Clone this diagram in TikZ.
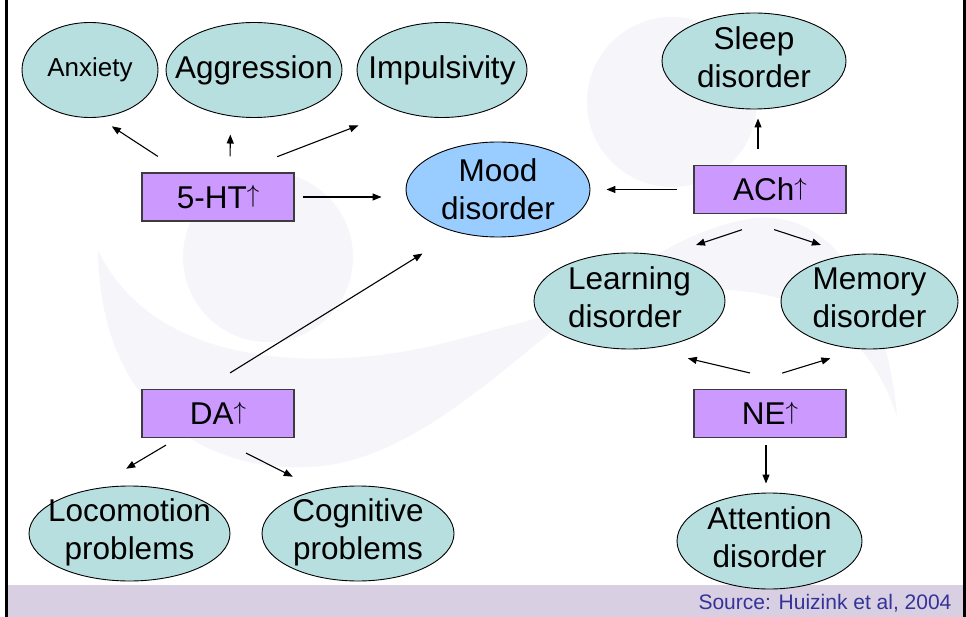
\documentclass[tikz,border=0pt]{standalone}
\usepackage{fontspec}
\setmainfont{Liberation Sans}
\usetikzlibrary{arrows.meta,shapes.geometric,calc}
\definecolor{ovalfill}{RGB}{184,223,224}
\definecolor{moodfill}{RGB}{153,204,255}
\definecolor{boxfill}{RGB}{204,153,255}
\definecolor{boxline}{RGB}{60,60,60}
\definecolor{barfill}{RGB}{217,207,227}
\definecolor{srccol}{RGB}{51,51,153}
\definecolor{wmark}{RGB}{246,245,250}
\newcommand{\lowstrut}{\rule[-8pt]{0pt}{8pt}}
\newcommand{\uparr}{\raisebox{5.4pt}{\fontsize{28}{28}\selectfont$\uparrow$}}
\begin{document}
\begin{tikzpicture}[x=1pt,y=-1pt,
  oval/.style={ellipse, draw=black, line width=0.9pt, fill=ovalfill, inner sep=-150pt,
    align=center, font=\fontsize{31.5}{38}\selectfont},
  box/.style={rectangle, draw=boxline, line width=1.3pt, fill=boxfill,
    minimum width=152pt, minimum height=48pt, inner sep=0pt,
    font=\fontsize{31.5}{38}\selectfont},
  arr/.style={line width=1.1pt, -{Triangle[length=9pt,width=7pt]}}
]
\useasboundingbox (0,0) rectangle (966,617);
\fill[white] (0,0) rectangle (966,617);
% watermark
\fill[wmark] (268,257) circle[radius=85];
\fill[wmark] (672,102) circle[radius=85];
\fill[wmark] (98,250) .. controls (100,420) and (220,480) .. (330,465)
  .. controls (480,440) and (600,240) .. (755,218)
  .. controls (850,210) and (890,330) .. (897,417)
  .. controls (870,330) and (800,285) .. (700,290)
  .. controls (560,300) and (470,345) .. (380,355)
  .. controls (250,370) and (140,340) .. (98,250) -- cycle;
% frame and footer
\fill[barfill] (8,585) rectangle (963,617);
\fill[black] (5,0) rectangle (8,617);
\fill[black] (963,0) rectangle (966,617);
\node[anchor=base east, text=srccol, font=\fontsize{21}{25}\selectfont] (src) at (955,609) {Source: Huizink et al, 2004};
% ovals
\node[oval, minimum width=136pt, minimum height=95pt, font=\fontsize{26}{31}\selectfont] (anx) at (90,70) {Anxiety};
\node[oval, minimum width=176pt, minimum height=95pt] (agg) at (254,70) {Aggression};
\node[oval, minimum width=170pt, minimum height=95pt] (imp) at (442,70) {Impulsivity};
\node[oval, minimum width=184pt, minimum height=96pt] (sleep) at (754,61) {Sleep\\disorder\lowstrut};
\node[oval, fill=moodfill, minimum width=184pt, minimum height=95pt] (mood) at (498,189.5) {Mood\\disorder};
\node[oval, align=left, minimum width=191pt, minimum height=96pt] (learn) at (629.5,301) {Learning\\disorder\lowstrut};
\node[oval, minimum width=177pt, minimum height=95pt] (mem) at (869.5,301.5) {Memory\\disorder\lowstrut};
\node[oval, minimum width=185pt, minimum height=96pt] (att) at (769.5,541) {Attention\\disorder\lowstrut};
\node[oval, minimum width=201pt, minimum height=95pt] (loco) at (129.5,533.5) {Locomotion\\problems\lowstrut};
\node[oval, minimum width=192pt, minimum height=95pt] (cog) at (358,533.5) {Cognitive\\problems\lowstrut};
% boxes
\node[box] (ht) at (218,197) {5-HT\uparr};
\node[box] (ach) at (770,189.5) {ACh\uparr};
\node[box] (ne) at (770,413.5) {NE\uparr};
\node[box] (da) at (218,413.5) {DA\uparr};
% connectors
\draw[arr, shorten <=29.1pt, shorten >=16pt] ([xshift=-35.7pt]ht.north) -- (anx.-80.8);
\draw[arr, shorten <=16pt, shorten >=18.3pt] ([xshift=12pt]ht.north) -- (agg.-117.7);
\draw[arr, shorten <=43.6pt, shorten >=41.1pt] ([xshift=18.5pt]ht.north) -- (imp.-138.9);
\draw[arr, shorten <=8pt, shorten >=24pt] (ht.east) -- (ht.east -| mood.west);
\draw[arr, shorten <=16pt, shorten >=16pt] (ach.west) -- (ach.west -| mood.east);
\draw[arr, shorten <=16pt, shorten >=9pt] ([xshift=-12pt]ach.north) -- ([xshift=-12pt]ach.north |- sleep.south);
\draw[arr, shorten <=49.6pt, shorten >=34.1pt] ([xshift=19pt]ach.south) -- (learn.53.6);
\draw[arr, shorten <=49.6pt, shorten >=31.2pt] ([xshift=-43pt]ach.south) -- (mem.112.2);
\draw[arr, shorten <=69.1pt, shorten >=42.1pt] ([xshift=47.2pt]ne.north) -- (learn.-70.7);
\draw[arr, shorten <=53.7pt, shorten >=31.2pt] ([xshift=-39.2pt]ne.north) -- (mem.-101.6);
\draw[arr, shorten <=7pt, shorten >=9pt] ([xshift=-4pt]ne.south) -- ([xshift=-4pt]ne.south |- att.north);
\draw[arr, shorten <=30.2pt, shorten >=40.1pt] ([xshift=-13.6pt]da.north) -- (mood.-134.8);
\draw[arr, shorten <=13.6pt, shorten >=39.6pt] ([xshift=-40.3pt]da.south) -- (loco.130.4);
\draw[arr, shorten <=33pt, shorten >=28.9pt] ([xshift=-1.4pt]da.south) -- (cog.132.2);
\end{tikzpicture}
\end{document}
